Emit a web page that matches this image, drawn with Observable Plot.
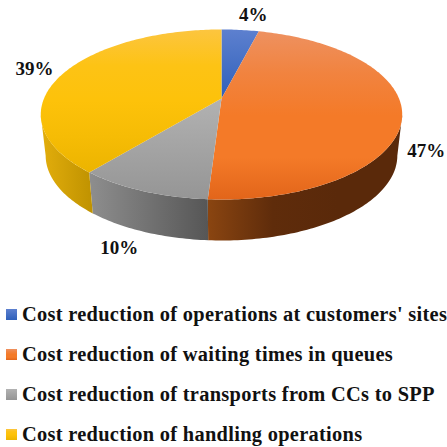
<!DOCTYPE html>
<html><head><meta charset="utf-8">
<script src="https://cdn.jsdelivr.net/npm/d3@7"></script>
<script src="https://cdn.jsdelivr.net/npm/@observablehq/plot@0.6"></script>
<style>
html,body{margin:0;padding:0;background:#fff;width:447px;height:447px;overflow:hidden}
#legend{position:relative;width:447px;height:152px;font-family:"Liberation Serif",serif;font-weight:bold;font-size:20.4px;color:#111}
.row{position:absolute;left:0;height:24px;white-space:nowrap;line-height:24px}
.sw{position:absolute;left:6px;top:7px;width:11px;height:11px}
.tx{position:absolute;left:22px;top:0;letter-spacing:.3px}
</style></head><body>
<div id="chart"></div><div id="legend"></div>
<script>
const categories = ["Cost reduction of operations at customers' sites","Cost reduction of waiting times in queues","Cost reduction of transports from CCs to SPP","Cost reduction of handling operations"];
const shares = [4,47,10,39];
const shareLabels = ["4%","47%","10%","39%"];
const labelDx = [13,24,-23,-30];
const labelDy = [-15,39,57,-3];
const topStops = [["#5d80cf","#2f60ba"],["#ee9160","#f1833f","#f47a28","#f47a28","#e2651a"],["#b2b2b2","#959595"],["#fcc53f","#fdc315","#fdc20a","#f6bc05","#ecb400"]];
const sideStops = [["#2f60ba","#2f60ba"],["#8a4511","#5f2c0b","#5a290a","#5a290a"],["#8e8e8e","#565656"],["#e3ae0c","#bf9200"]];

const W = 447, H = 295;
const cx = 221, cy = 98, rx = 177.5, ky = 82, persp = 0.188, depth = 41, shrink = 0.973;
const rad = d => d * Math.PI / 180;
function topPt(a){ const u = Math.sin(rad(a)), v = -Math.cos(rad(a)), w = 1 - persp * v;
  return {x: cx + rx * u / w, y: cy + ky * v / w}; }
function bottomPt(a){ const p = topPt(a); return {x: cx + shrink * (p.x - cx), y: p.y + depth}; }
function arc(f,a0,a1){ const n = Math.max(2, Math.ceil(Math.abs(a1-a0))), out = [];
  for (let i=0;i<=n;i++) out.push(f(a0+(a1-a0)*i/n)); return out; }

let acc = 0;
const slices = shares.map((s,i)=>{ const a0 = acc*3.6; acc += s; return {i, a0, a1: acc*3.6, mid:(a0+acc*3.6)/2}; });
const silL = 101, silR = 259;
const marks = [];
marks.push(()=>{
  const defs = d3.create("svg:defs");
  const add = (id,stops,horizontal)=>{
    const g = defs.append("linearGradient").attr("id",id).attr("x1",0).attr("y1",0).attr("x2",horizontal?1:0).attr("y2",horizontal?0:1);
    stops.forEach((c,k)=>g.append("stop").attr("offset",k/(stops.length-1)).attr("stop-color",c));
  };
  topStops.forEach((s,i)=>add("top"+i,s,false));
  sideStops.forEach((s,i)=>add("side"+i,s,true));
  return defs.node();
});
// walls, front part only
slices.forEach(s=>{
  const a0 = Math.max(s.a0,silL), a1 = Math.min(s.a1,silR);
  if (a1<=a0) return;
  const poly = [...arc(topPt,a0,a1),...arc(bottomPt,a1,a0)];
  marks.push(Plot.line(poly,{x:"x",y:"y",fill:`url(#side${s.i})`,stroke:"none",curve:"linear"}));
});
// top faces
slices.forEach(s=>{
  const poly = [{x:cx,y:cy},...arc(topPt,s.a0,s.a1)];
  marks.push(Plot.line(poly,{x:"x",y:"y",fill:`url(#top${s.i})`,stroke:"none",curve:"linear"}));
});
const labels = slices.map(s=>{ const p = topPt(s.mid); return {t:shareLabels[s.i], x:p.x+labelDx[s.i], y:p.y+labelDy[s.i]}; });
marks.push(Plot.text(labels,{x:"x",y:"y",text:"t",fontFamily:"Liberation Serif",fontWeight:"bold",fontSize:19,fill:"#111"}));

const plot = Plot.plot({width:W,height:H,margin:0,
  x:{domain:[0,W],range:[0,W],axis:null},y:{domain:[0,H],range:[0,H],axis:null},
  style:{background:"#fff",overflow:"visible"},marks});
document.getElementById("chart").append(plot);
plot.style.display="block";

const legend = d3.select("#legend");
const rowTop = [7,47,87,127];
categories.forEach((c,i)=>{
  const r = legend.append("div").attr("class","row").style("top",rowTop[i]+"px");
  const st = topStops[i];
  r.append("span").attr("class","sw").style("background",`linear-gradient(${st.join(",")})`);
  r.append("span").attr("class","tx").text(c);
});
</script></body></html>
